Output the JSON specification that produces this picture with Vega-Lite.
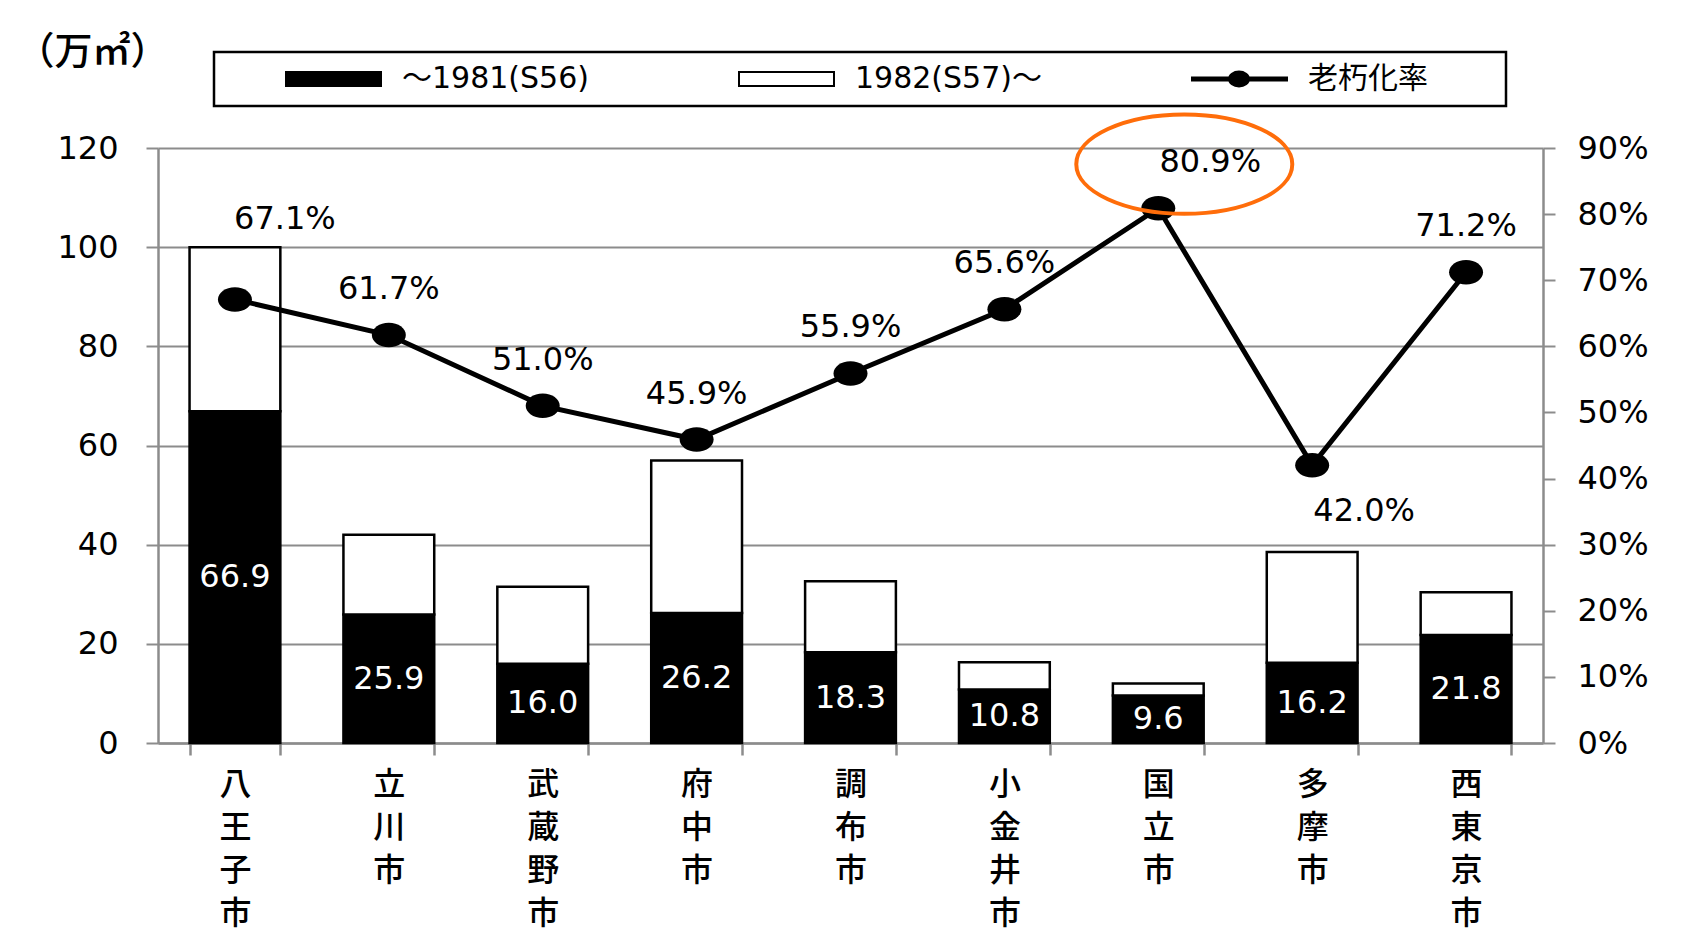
{
  "$schema": "https://vega.github.io/schema/vega-lite/v6.json",
  "width": 1385,
  "height": 595,
  "autosize": {"type": "none"},
  "padding": {"left": 158, "top": 148, "right": 149, "bottom": 200},
  "background": "white",
  "config": {"view": {"stroke": null}, "font": "DejaVu Sans", "text": {"font": "DejaVu Sans"}},
  "datasets": {
    "bars": [
      {"city": "八王子市", "period": "～1981(S56)", "value": 66.9},
      {"city": "八王子市", "period": "1982(S57)～", "value": 33.1},
      {"city": "立川市", "period": "～1981(S56)", "value": 25.9},
      {"city": "立川市", "period": "1982(S57)～", "value": 16.1},
      {"city": "武蔵野市", "period": "～1981(S56)", "value": 16.0},
      {"city": "武蔵野市", "period": "1982(S57)～", "value": 15.5},
      {"city": "府中市", "period": "～1981(S56)", "value": 26.2},
      {"city": "府中市", "period": "1982(S57)～", "value": 30.8},
      {"city": "調布市", "period": "～1981(S56)", "value": 18.3},
      {"city": "調布市", "period": "1982(S57)～", "value": 14.3},
      {"city": "小金井市", "period": "～1981(S56)", "value": 10.8},
      {"city": "小金井市", "period": "1982(S57)～", "value": 5.5},
      {"city": "国立市", "period": "～1981(S56)", "value": 9.6},
      {"city": "国立市", "period": "1982(S57)～", "value": 2.4},
      {"city": "多摩市", "period": "～1981(S56)", "value": 16.2},
      {"city": "多摩市", "period": "1982(S57)～", "value": 22.3},
      {"city": "西東京市", "period": "～1981(S56)", "value": 21.8},
      {"city": "西東京市", "period": "1982(S57)～", "value": 8.6}
    ],
    "rate": [
      {"city": "八王子市", "rate": 0.671},
      {"city": "立川市", "rate": 0.617},
      {"city": "武蔵野市", "rate": 0.510},
      {"city": "府中市", "rate": 0.459},
      {"city": "調布市", "rate": 0.559},
      {"city": "小金井市", "rate": 0.656},
      {"city": "国立市", "rate": 0.809},
      {"city": "多摩市", "rate": 0.420},
      {"city": "西東京市", "rate": 0.712}
    ]
  },
  "layer": [
    {
      "data": {"name": "bars"},
      "mark": {"type": "bar", "stroke": "black", "strokeWidth": 2.5},
      "encoding": {
        "x": {
          "field": "city", "type": "nominal",
          "scale": {"domain": ["八王子市","立川市","武蔵野市","府中市","調布市","小金井市","国立市","多摩市","西東京市"], "paddingInner": 0.41, "paddingOuter": 0.205},
          "axis": {
            "title": null, "tickBand": "extent", "labelAngle": 0,
            "labelExpr": "split(datum.label, '')",
            "labelFont": "Noto Sans CJK JP", "labelFontSize": 32, "labelLineHeight": 43, "labelFontWeight": 500,
            "labelBaseline": "top", "labelPadding": 14, "labelColor": "black",
            "tickSize": 12, "tickColor": "#8c8c8c", "tickWidth": 2.5,
            "domainColor": "#8c8c8c", "domainWidth": 2.5
          }
        },
        "y": {
          "field": "value", "type": "quantitative", "stack": "zero",
          "scale": {"domain": [0, 120], "nice": false},
          "axis": {
            "values": [0, 20, 40, 60, 80, 100, 120],
            "grid": true, "gridColor": "#8c8c8c", "gridWidth": 2,
            "domainColor": "#8c8c8c", "domainWidth": 2.5,
            "tickColor": "#8c8c8c", "tickWidth": 2, "tickSize": 12,
            "labelPadding": 28, "labelFontSize": 32, "labelColor": "black", "labelFont": "DejaVu Sans",
            "title": "（万㎡）", "titleAngle": 0, "titleX": -142, "titleY": -96,
            "titleAlign": "left", "titleBaseline": "middle", "titleFontSize": 38,
            "titleFont": "Noto Sans CJK JP", "titleFontWeight": 500, "titleColor": "black"
          }
        },
        "color": {
          "field": "period", "type": "nominal",
          "scale": {"domain": ["～1981(S56)", "1982(S57)～", "老朽化率"], "range": ["black", "white", "black"]},
          "legend": {
            "orient": "none", "legendX": 56, "legendY": -96,
            "direction": "horizontal", "columns": 3, "gridAlign": "all", "columnPadding": 24,
            "title": null, "padding": 12, "strokeColor": "black",
            "symbolSize": 400,
            "symbolType": "M4.5,-0.7H14V0.7H4.5Z",
            "symbolStrokeColor": "black", "symbolStrokeWidth": 2,
            "labelExpr": "datum.label + '⠀⠀⠀'",
            "labelFontSize": 30, "labelFont": "DejaVu Sans, Noto Sans CJK JP", "labelOffset": 146, "labelColor": "black", "labelLimit": 600,
            "encode": {
              "symbols": {"update": {"shape": {"signal": "datum.value === '老朽化率' ? 'M4.5,-0.15H14V0.15H4.5Z M8.2,0A1,0.75,0,1,1,10.2,0A1,0.75,0,1,1,8.2,0Z' : 'M4.5,-0.7H14V0.7H4.5Z'"}}},
              "legend": {"update": {"strokeWidth": {"value": 2.5}}}
            }
          }
        },
        "order": {"field": "period", "sort": "descending"}
      }
    },
    {
      "data": {"name": "bars"},
      "transform": [{"filter": "datum.period === '～1981(S56)'"}],
      "mark": {"type": "text", "color": "white", "fontSize": 32, "baseline": "middle", "font": "DejaVu Sans"},
      "encoding": {
        "x": {"field": "city", "type": "nominal", "scale": {"domain": ["八王子市","立川市","武蔵野市","府中市","調布市","小金井市","国立市","多摩市","西東京市"]}},
        "y": {"field": "value", "type": "quantitative", "scale": {"domain": [0, 240], "nice": false}, "axis": null},
        "text": {"field": "value", "type": "quantitative", "format": ".1f"}
      }
    },
    {
      "data": {"name": "rate"},
      "mark": {"type": "line", "color": "black", "strokeWidth": 5},
      "encoding": {
        "x": {"field": "city", "type": "nominal", "scale": {"domain": ["八王子市","立川市","武蔵野市","府中市","調布市","小金井市","国立市","多摩市","西東京市"]}},
        "y": {
          "field": "rate", "type": "quantitative",
          "scale": {"domain": [0, 0.9], "nice": false},
          "axis": {
            "orient": "right", "values": [0, 0.1, 0.2, 0.3, 0.4, 0.5, 0.6, 0.7, 0.8, 0.9],
            "format": ".0%", "grid": false, "title": null,
            "domainColor": "#8c8c8c", "domainWidth": 2.5,
            "tickColor": "#8c8c8c", "tickWidth": 2, "tickSize": 12,
            "labelPadding": 22, "labelFontSize": 32, "labelColor": "black", "labelFont": "DejaVu Sans"
          }
        }
      }
    },
    {
      "data": {"name": "rate"},
      "mark": {"type": "point", "filled": true, "color": "black", "opacity": 1, "size": 1156, "strokeWidth": 0,
               "shape": "M-1,0A1,0.72,0,1,1,1,0A1,0.72,0,1,1,-1,0Z"},
      "encoding": {
        "x": {"field": "city", "type": "nominal", "scale": {"domain": ["八王子市","立川市","武蔵野市","府中市","調布市","小金井市","国立市","多摩市","西東京市"]}},
        "y": {"field": "rate", "type": "quantitative", "scale": {"domain": [0, 0.9], "nice": false}, "axis": null}
      }
    },
    {
      "data": {"name": "rate"},
      "transform": [{"filter": "datum.city !== '八王子市' && datum.city !== '国立市' && datum.city !== '多摩市'"}],
      "mark": {"type": "text", "color": "black", "fontSize": 32, "baseline": "middle", "dy": -46, "font": "DejaVu Sans"},
      "encoding": {
        "x": {"field": "city", "type": "nominal", "scale": {"domain": ["八王子市","立川市","武蔵野市","府中市","調布市","小金井市","国立市","多摩市","西東京市"]}},
        "y": {"field": "rate", "type": "quantitative", "scale": {"domain": [0, 0.9], "nice": false}, "axis": null},
        "text": {"field": "rate", "type": "quantitative", "format": ".1%"}
      }
    },
    {
      "data": {"name": "rate"},
      "transform": [{"filter": "datum.city === '八王子市'"}],
      "mark": {"type": "text", "color": "black", "fontSize": 32, "baseline": "middle", "dx": 50, "dy": -80, "font": "DejaVu Sans"},
      "encoding": {
        "x": {"field": "city", "type": "nominal", "scale": {"domain": ["八王子市","立川市","武蔵野市","府中市","調布市","小金井市","国立市","多摩市","西東京市"]}},
        "y": {"field": "rate", "type": "quantitative", "scale": {"domain": [0, 0.9], "nice": false}, "axis": null},
        "text": {"field": "rate", "type": "quantitative", "format": ".1%"}
      }
    },
    {
      "data": {"name": "rate"},
      "transform": [{"filter": "datum.city === '国立市'"}],
      "mark": {"type": "text", "color": "black", "fontSize": 32, "baseline": "middle", "dx": 52, "dy": -46, "font": "DejaVu Sans"},
      "encoding": {
        "x": {"field": "city", "type": "nominal", "scale": {"domain": ["八王子市","立川市","武蔵野市","府中市","調布市","小金井市","国立市","多摩市","西東京市"]}},
        "y": {"field": "rate", "type": "quantitative", "scale": {"domain": [0, 0.9], "nice": false}, "axis": null},
        "text": {"field": "rate", "type": "quantitative", "format": ".1%"}
      }
    },
    {
      "data": {"name": "rate"},
      "transform": [{"filter": "datum.city === '多摩市'"}],
      "mark": {"type": "text", "color": "black", "fontSize": 32, "baseline": "middle", "dx": 52, "dy": 46, "font": "DejaVu Sans"},
      "encoding": {
        "x": {"field": "city", "type": "nominal", "scale": {"domain": ["八王子市","立川市","武蔵野市","府中市","調布市","小金井市","国立市","多摩市","西東京市"]}},
        "y": {"field": "rate", "type": "quantitative", "scale": {"domain": [0, 0.9], "nice": false}, "axis": null},
        "text": {"field": "rate", "type": "quantitative", "format": ".1%"}
      }
    },
    {
      "data": {"name": "rate"},
      "transform": [{"filter": "datum.city === '国立市'"}],
      "mark": {"type": "point", "filled": false, "stroke": "#FF6D0A", "strokeWidth": 4, "opacity": 1, "size": 46656,
               "xOffset": 26, "yOffset": -44,
               "shape": "M-1,0A1,0.46,0,1,1,1,0A1,0.46,0,1,1,-1,0Z"},
      "encoding": {
        "x": {"field": "city", "type": "nominal", "scale": {"domain": ["八王子市","立川市","武蔵野市","府中市","調布市","小金井市","国立市","多摩市","西東京市"]}},
        "y": {"field": "rate", "type": "quantitative", "scale": {"domain": [0, 0.9], "nice": false}, "axis": null}
      }
    }
  ],
  "resolve": {"scale": {"y": "independent"}}
}
